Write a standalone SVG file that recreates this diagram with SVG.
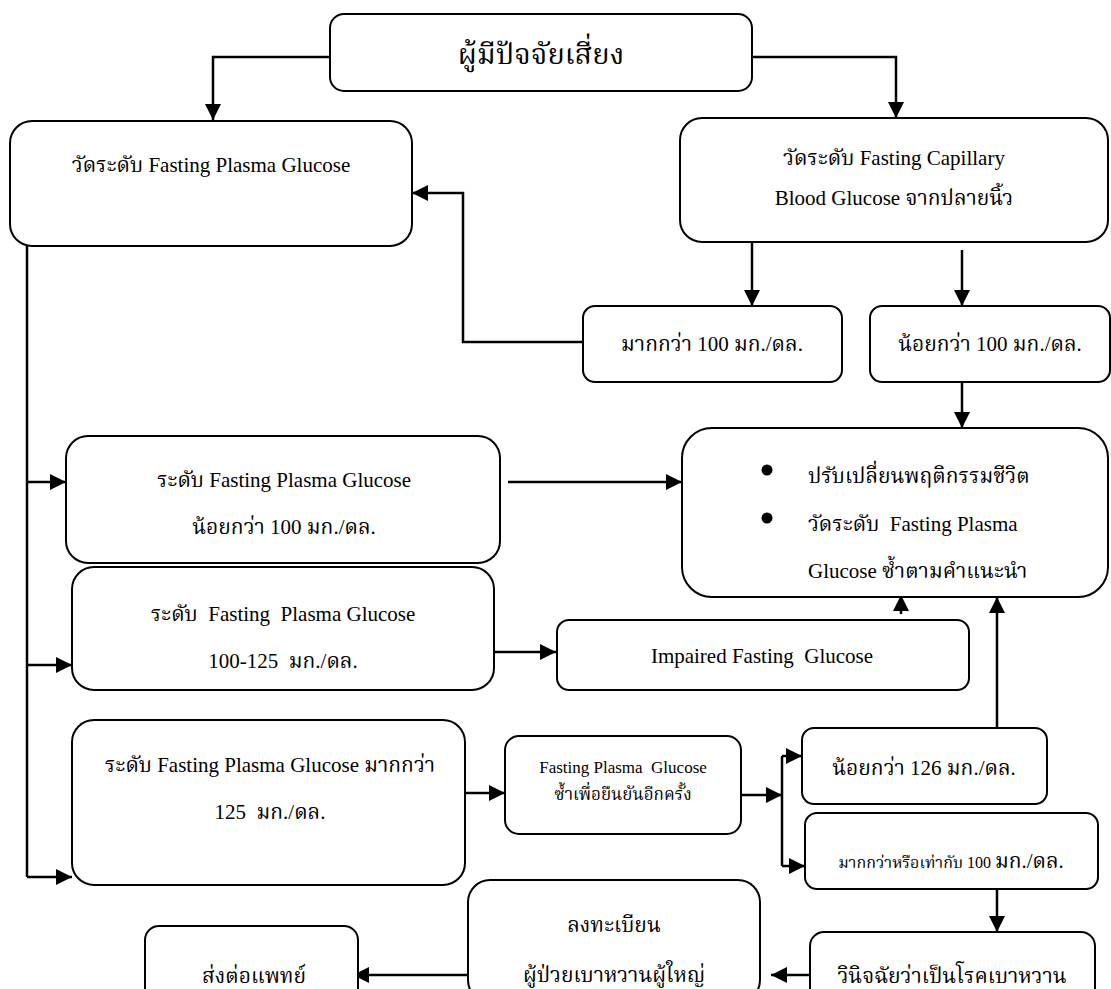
<svg xmlns="http://www.w3.org/2000/svg" width="1111" height="989" viewBox="0 0 1111 989">
<style>
.box{fill:#fff;stroke:#000;stroke-width:2}
.t{font-family:"Liberation Serif","Noto Serif Thai","Noto Sans Thai","Garuda","Loma",serif;font-size:21px;fill:#000;text-anchor:middle;white-space:pre}
.big{font-size:29px}
.sm{font-size:17px}
.c{fill:none;stroke:#000;stroke-width:2.5}
</style>
<defs>
<marker id="a" markerUnits="userSpaceOnUse" markerWidth="18" markerHeight="16" refX="16" refY="8" orient="auto">
<path d="M0,0 L16,8 L0,16 Z" fill="#000"/>
</marker>
</defs>
<g id="connectors">
<path class="c" marker-end="url(#a)" d="M330,57 H213 V120"/>
<path class="c" marker-end="url(#a)" d="M752,57 H896 V118"/>
<path class="c" marker-end="url(#a)" d="M752,242 V306"/>
<path class="c" marker-end="url(#a)" d="M962,250 V306"/>
<path class="c" marker-end="url(#a)" d="M583,342 H463 V193 H412"/>
<path class="c" d="M27,246 V877"/>
<path class="c" marker-end="url(#a)" d="M27,482 H66"/>
<path class="c" marker-end="url(#a)" d="M27,665 H72"/>
<path class="c" marker-end="url(#a)" d="M27,877 H72"/>
<path class="c" marker-end="url(#a)" d="M508,482 H682"/>
<path class="c" marker-end="url(#a)" d="M962,382 V428"/>
<path class="c" marker-end="url(#a)" d="M494,652 H556"/>
<path class="c" marker-end="url(#a)" d="M901,614 V595"/>
<path class="c" marker-end="url(#a)" d="M997,728 V597"/>
<path class="c" marker-end="url(#a)" d="M465,793 H505"/>
<path class="c" marker-end="url(#a)" d="M741,795 H782"/>
<path class="c" d="M782,756 V866"/>
<path class="c" marker-end="url(#a)" d="M782,756 H802"/>
<path class="c" marker-end="url(#a)" d="M782,866 H805"/>
<path class="c" marker-end="url(#a)" d="M997,889 V932"/>
<path class="c" marker-end="url(#a)" d="M810,975 H771"/>
<path class="c" marker-end="url(#a)" d="M468,975 H353"/>
</g>
<g id="n-risk">
<rect class="box" x="330" y="14" width="422" height="77" rx="14"/>
<text class="t big" x="541" y="64">ผู้มีปัจจัยเสี่ยง</text>
</g>
<g id="n-fpg">
<rect class="box" x="10" y="121" width="402" height="125" rx="22"/>
<text class="t" x="211" y="172">วัดระดับ Fasting Plasma Glucose</text>
</g>
<g id="n-capillary">
<rect class="box" x="680" y="118" width="428" height="124" rx="22"/>
<text class="t" x="894" y="165">วัดระดับ Fasting Capillary</text>
<text class="t" x="894" y="205">Blood Glucose จากปลายนิ้ว</text>
</g>
<g id="n-more100">
<rect class="box" x="583" y="306" width="259" height="76" rx="12"/>
<text class="t" x="712" y="351">มากกว่า 100 มก./ดล.</text>
</g>
<g id="n-less100">
<rect class="box" x="870" y="306" width="240" height="76" rx="12"/>
<text class="t" x="990" y="351">น้อยกว่า 100 มก./ดล.</text>
</g>
<g id="n-level-less100">
<rect class="box" x="66" y="436" width="434" height="127" rx="22"/>
<text class="t" x="284" y="487">ระดับ Fasting Plasma Glucose</text>
<text class="t" x="284" y="534">น้อยกว่า 100 มก./ดล.</text>
</g>
<g id="n-lifestyle">
<rect class="box" x="682" y="428" width="426" height="169" rx="30"/>
<circle cx="767" cy="470" r="5.5"/>
<circle cx="767" cy="518" r="5.5"/>
<text class="t" x="808" y="483" style="text-anchor:start">ปรับเปลี่ยนพฤติกรรมชีวิต</text>
<text class="t" x="808" y="531" style="text-anchor:start">วัดระดับ  Fasting Plasma</text>
<text class="t" x="808" y="578" style="text-anchor:start">Glucose ซ้ำตามคำแนะนำ</text>
</g>
<g id="n-level-100-125">
<rect class="box" x="72" y="567" width="422" height="123" rx="22"/>
<text class="t" x="283" y="621">ระดับ  Fasting  Plasma Glucose</text>
<text class="t" x="283" y="668">100-125  มก./ดล.</text>
</g>
<g id="n-ifg">
<rect class="box" x="557" y="620" width="412" height="70" rx="12"/>
<text class="t" x="762" y="663">Impaired Fasting  Glucose</text>
</g>
<g id="n-level-more125">
<rect class="box" x="72" y="720" width="393" height="165" rx="22"/>
<text class="t" x="270" y="772">ระดับ Fasting Plasma Glucose มากกว่า</text>
<text class="t" x="270" y="819">125  มก./ดล.</text>
</g>
<g id="n-repeat">
<rect class="box" x="505" y="736" width="236" height="98" rx="14"/>
<text class="t sm" x="623" y="773">Fasting Plasma  Glucose</text>
<text class="t sm" x="623" y="800">ซ้ำเพื่อยืนยันอีกครั้ง</text>
</g>
<g id="n-less126">
<rect class="box" x="802" y="728" width="245" height="76" rx="12"/>
<text class="t" x="924" y="775">น้อยกว่า 126 มก./ดล.</text>
</g>
<g id="n-ge100">
<rect class="box" x="805" y="813" width="293" height="76" rx="12"/>
<text class="t" x="951" y="868"><tspan style="font-size:16px">มากกว่าหรือเท่ากับ 100 </tspan>มก./ดล.</text>
</g>
<g id="n-diagnose">
<rect class="box" x="810" y="932" width="285" height="70" rx="14"/>
<text class="t" x="952" y="983">วินิจฉัยว่าเป็นโรคเบาหวาน</text>
</g>
<g id="n-register">
<rect class="box" x="468" y="880" width="292" height="122" rx="22"/>
<text class="t" x="614" y="932">ลงทะเบียน</text>
<text class="t" x="614" y="982">ผู้ป่วยเบาหวานผู้ใหญ่</text>
</g>
<g id="n-refer">
<rect class="box" x="145" y="926" width="213" height="76" rx="14"/>
<text class="t" x="254" y="983">ส่งต่อแพทย์</text>
</g>
</svg>
